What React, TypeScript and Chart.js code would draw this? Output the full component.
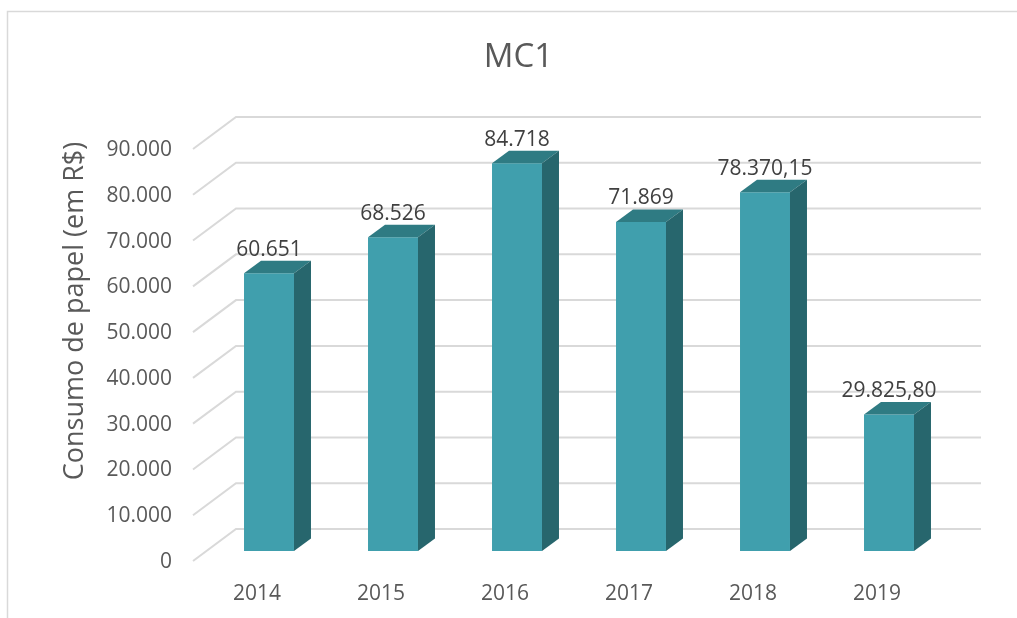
import React, { useEffect, useRef } from "react";
import { Chart, registerables } from "chart.js";

Chart.register(...registerables);

const categories = ["2014", "2015", "2016", "2017", "2018", "2019"];
const values = [60651, 68526, 84718, 71869, 78370.15, 29825.8];
const labelDecimals = [0, 0, 0, 0, 2, 2];
const yMin = 0;
const yMax = 90000;
const yStep = 10000;
const chartTitle = "MC1";
const yAxisTitle = "Consumo de papel (em R$)";

const FONT = "'Open Sans', 'DejaVu Sans', sans-serif";
const FRONT = "#409FAD";
const TOP = "#2F7B83";
const SIDE = "#27666D";
const GRID = "#D9D9D9";
const TEXT = "#595959";
const LABEL = "#404040";

function fmt(v: number, decimals: number): string {
  const fixed = v.toFixed(decimals);
  const [intPart, decPart] = fixed.split(".");
  const withSep = intPart.replace(/\B(?=(\d{3})+(?!\d))/g, ".");
  return decPart ? withSep + "," + decPart : withSep;
}

const depthX = 17;
const depthY = 12.5;

const threeDPlugin = {
  id: "threeD",
  beforeDraw(chart: any) {
    const ctx = chart.ctx;
    ctx.save();
    ctx.fillStyle = "#ffffff";
    ctx.fillRect(0, 0, chart.width, chart.height);
    ctx.strokeStyle = GRID;
    ctx.lineWidth = 1.5;
    ctx.beginPath();
    ctx.moveTo(7.5, chart.height);
    ctx.lineTo(7.5, 11.5);
    ctx.lineTo(chart.width, 11.5);
    ctx.stroke();
    ctx.restore();
  },
  beforeDatasetsDraw(chart: any) {
    const ctx = chart.ctx;
    const y = chart.scales.y;
    const area = chart.chartArea;
    const backL = area.left + 29;
    const backR = area.right + 30;
    const frontL = area.left - 14;
    ctx.save();
    ctx.strokeStyle = GRID;
    ctx.lineWidth = 2;
    for (let v = yMin; v <= yMax; v += yStep) {
      const py = y.getPixelForValue(v);
      ctx.beginPath();
      ctx.moveTo(frontL, py + 10);
      ctx.lineTo(backL, py - 22);
      ctx.lineTo(backR, py - 22);
      ctx.stroke();
    }
    ctx.restore();
  },
  afterDatasetsDraw(chart: any) {
    const ctx = chart.ctx;
    const meta = chart.getDatasetMeta(0);
    ctx.save();
    meta.data.forEach((bar: any, i: number) => {
      const { x, y, base, width } = bar.getProps(["x", "y", "base", "width"], true);
      const l = x - width / 2;
      const r = x + width / 2;
      ctx.fillStyle = TOP;
      ctx.beginPath();
      ctx.moveTo(l, y);
      ctx.lineTo(l + depthX, y - depthY);
      ctx.lineTo(r + depthX, y - depthY);
      ctx.lineTo(r, y);
      ctx.closePath();
      ctx.fill();
      ctx.fillStyle = SIDE;
      ctx.beginPath();
      ctx.moveTo(r, y);
      ctx.lineTo(r + depthX, y - depthY);
      ctx.lineTo(r + depthX, base - depthY);
      ctx.lineTo(r, base);
      ctx.closePath();
      ctx.fill();

      ctx.fillStyle = LABEL;
      ctx.font = `21px ${FONT}`;
      ctx.textAlign = "center";
      ctx.textBaseline = "alphabetic";
      ctx.fillText(fmt(values[i], labelDecimals[i]), x, y - 17.5);
    });
    ctx.restore();
  },
  afterDraw(chart: any) {
    const ctx = chart.ctx;
    ctx.save();
    ctx.fillStyle = TEXT;
    ctx.textAlign = "center";
    ctx.textBaseline = "alphabetic";
    ctx.font = `33px ${FONT}`;
    ctx.fillText(chartTitle, 518.5, 67);
    ctx.translate(83, 311);
    ctx.rotate(-Math.PI / 2);
    ctx.font = `27px ${FONT}`;
    ctx.fillText(yAxisTitle, 0, 0);
    ctx.restore();
  },
};

export default function App() {
  const canvasRef = useRef<HTMLCanvasElement | null>(null);

  useEffect(() => {
    if (!canvasRef.current) return;
    const chart = new Chart(canvasRef.current, {
      type: "bar",
      data: {
        labels: categories,
        datasets: [
          {
            data: values,
            backgroundColor: FRONT,
            borderWidth: 0,
            barPercentage: 0.403,
            categoryPercentage: 1,
          },
        ],
      },
      options: {
        animation: false,
        responsive: false,
        devicePixelRatio: 1,
        layout: { padding: { top: 139, right: 66, left: 0, bottom: 0 } },
        plugins: {
          legend: { display: false },
          title: { display: false },
          tooltip: { enabled: false },
        },
        scales: {
          x: {
            grid: { display: false },
            border: { display: false },
            ticks: {
              color: TEXT,
              font: { family: FONT, size: 21 },
              labelOffset: -12,
              padding: 22,
              maxRotation: 0,
            },
            afterFit(scale: any) {
              scale.height = 67;
            },
          },
          y: {
            min: yMin,
            max: yMax,
            grid: { display: false, drawTicks: false },
            border: { display: false },
            ticks: {
              stepSize: yStep,
              color: TEXT,
              font: { family: FONT, size: 21 },
              padding: 35,
              labelOffset: 11,
              callback: (v: any) => fmt(Number(v), 0),
            },
            afterFit(scale: any) {
              scale.width = 207;
            },
          },
        },
      },
      plugins: [threeDPlugin],
    });
    return () => chart.destroy();
  }, []);

  return (
    <div style={{ position: "fixed", left: 0, top: 0, width: 1017, height: 618, background: "#fff" }}>
      <canvas ref={canvasRef} width={1017} height={618} style={{ display: "block" }} />
    </div>
  );
}
